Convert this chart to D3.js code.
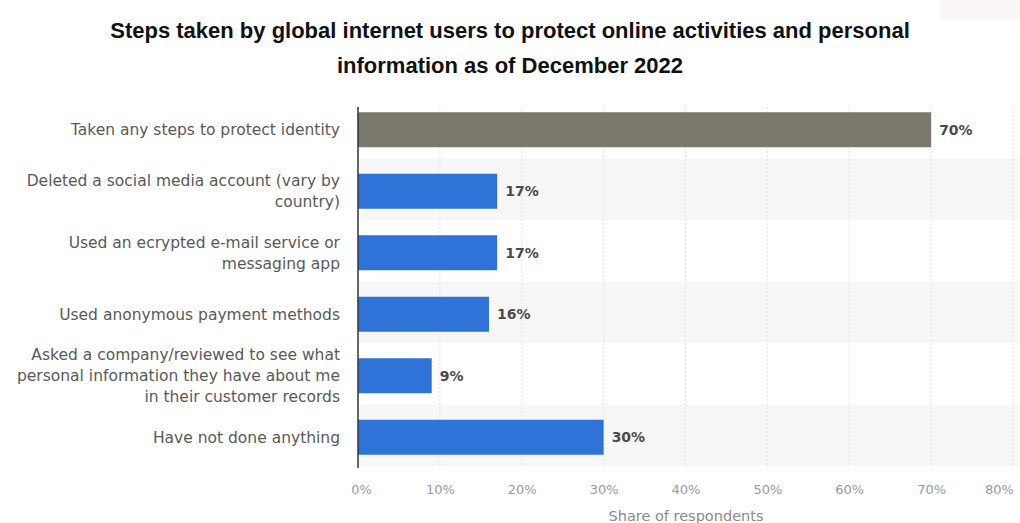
<!DOCTYPE html>
<html><head><meta charset="utf-8">
<script src="https://cdn.jsdelivr.net/npm/d3@7"></script>
<style>body{margin:0;background:#fff}</style>
</head><body>
<svg id="c" width="1020" height="523"></svg>
<script>
const categories = [
  ["Taken any steps to protect identity"],
  ["Deleted a social media account (vary by", "country)"],
  ["Used an ecrypted e-mail service or", "messaging app"],
  ["Used anonymous payment methods"],
  ["Asked a company/reviewed to see what", "personal information they have about me", "in their customer records"],
  ["Have not done anything"]
];
const values = [70, 17, 17, 16, 9, 30];
const highlight = [true, false, false, false, false, false];
const ticks = [0, 10, 20, 30, 40, 50, 60, 70, 80];
const titleLines = ["Steps taken by global internet users to protect online activities and personal", "information as of December 2022"];
const axisTitle = "Share of respondents";

(function () {
const svg = d3.select("#c");
const mLeft = 358, mRight = 1013, mTop = 99, mBottom = 468;
const x = d3.scaleLinear().domain([0, 80]).range([mLeft, mRight]);
const y = d3.scaleBand().domain(d3.range(categories.length)).range([mTop, mBottom]).paddingInner(0).paddingOuter(0);
const barH = 35;

// stripes
svg.selectAll("rect.stripe").data(d3.range(categories.length)).join("rect")
  .attr("x", mLeft).attr("width", mRight - mLeft + 7)
  .attr("y", i => y(i) - 2).attr("height", y.bandwidth())
  .attr("fill", i => i % 2 ? "#f7f7f7" : "#fff");

// gridlines
svg.selectAll("line.grid").data(ticks.slice(1)).join("line")
  .attr("x1", d => x(d)).attr("x2", d => x(d))
  .attr("y1", mTop + 8).attr("y2", mBottom)
  .attr("stroke", "#e3e3e3").attr("stroke-dasharray", "2,2");

// bars
svg.selectAll("rect.bar").data(values).join("rect")
  .attr("x", x(0)).attr("width", d => x(d) - x(0))
  .attr("y", (d, i) => y(i) + (y.bandwidth() - barH) / 2).attr("height", barH)
  .attr("fill", (d, i) => highlight[i] ? "#7b796e" : "#2f72d8");

// value labels
svg.selectAll("text.val").data(values).join("text")
  .attr("x", d => x(d) + 8).attr("y", (d, i) => y(i) + y.bandwidth() / 2)
  .attr("dy", "0.35em")
  .attr("font-family", "DejaVu Sans, sans-serif").attr("font-weight", "bold")
  .attr("font-size", 14).attr("fill", "#4a4a4a")
  .text(d => d + "%");

// y labels
categories.forEach((lines, i) => {
  const cy = y(i) + y.bandwidth() / 2;
  const lh = 21;
  const t = svg.append("text").attr("text-anchor", "end")
    .attr("font-family", "DejaVu Sans, sans-serif").attr("font-size", 15.5).attr("fill", "#595959");
  lines.forEach((l, k) => {
    t.append("tspan").attr("x", 340).attr("y", cy + (k - (lines.length - 1) / 2) * lh).attr("dy", "0.35em").text(l);
  });
});

// left axis line
svg.append("line").attr("x1", mLeft).attr("x2", mLeft).attr("y1", mTop + 8).attr("y2", mBottom)
  .attr("stroke", "#333").attr("stroke-width", 1.5);

// x tick labels
const xa = svg.append("g").attr("transform", `translate(0,${mBottom})`)
  .call(d3.axisBottom(x).tickValues(ticks).tickFormat(d => d + "%").tickSize(0).tickPadding(17));
xa.select(".domain").remove();
xa.selectAll("text").attr("font-family", "DejaVu Sans, sans-serif").attr("font-size", 13).attr("fill", "#9a9a9a")
  .attr("dx", d => d === 80 ? -14 : (d === 0 ? 3 : 0));

svg.append("text").attr("x", 686).attr("y", 521).attr("text-anchor", "middle")
  .attr("font-family", "DejaVu Sans, sans-serif").attr("font-size", 14.5).attr("fill", "#8a8a8a").text(axisTitle);

// title
svg.selectAll("text.title").data(titleLines).join("text")
  .attr("x", 510).attr("y", (d, i) => 38 + i * 35).attr("text-anchor", "middle")
  .attr("font-family", "Liberation Sans, Arial, sans-serif").attr("font-weight", "bold")
  .attr("font-size", 22).attr("fill", "#111").text(d => d);

// faint top-right box
svg.append("rect").attr("x", 940).attr("y", 0).attr("width", 80).attr("height", 20).attr("fill", "#fdf6f6");
})();
</script>
</body></html>
